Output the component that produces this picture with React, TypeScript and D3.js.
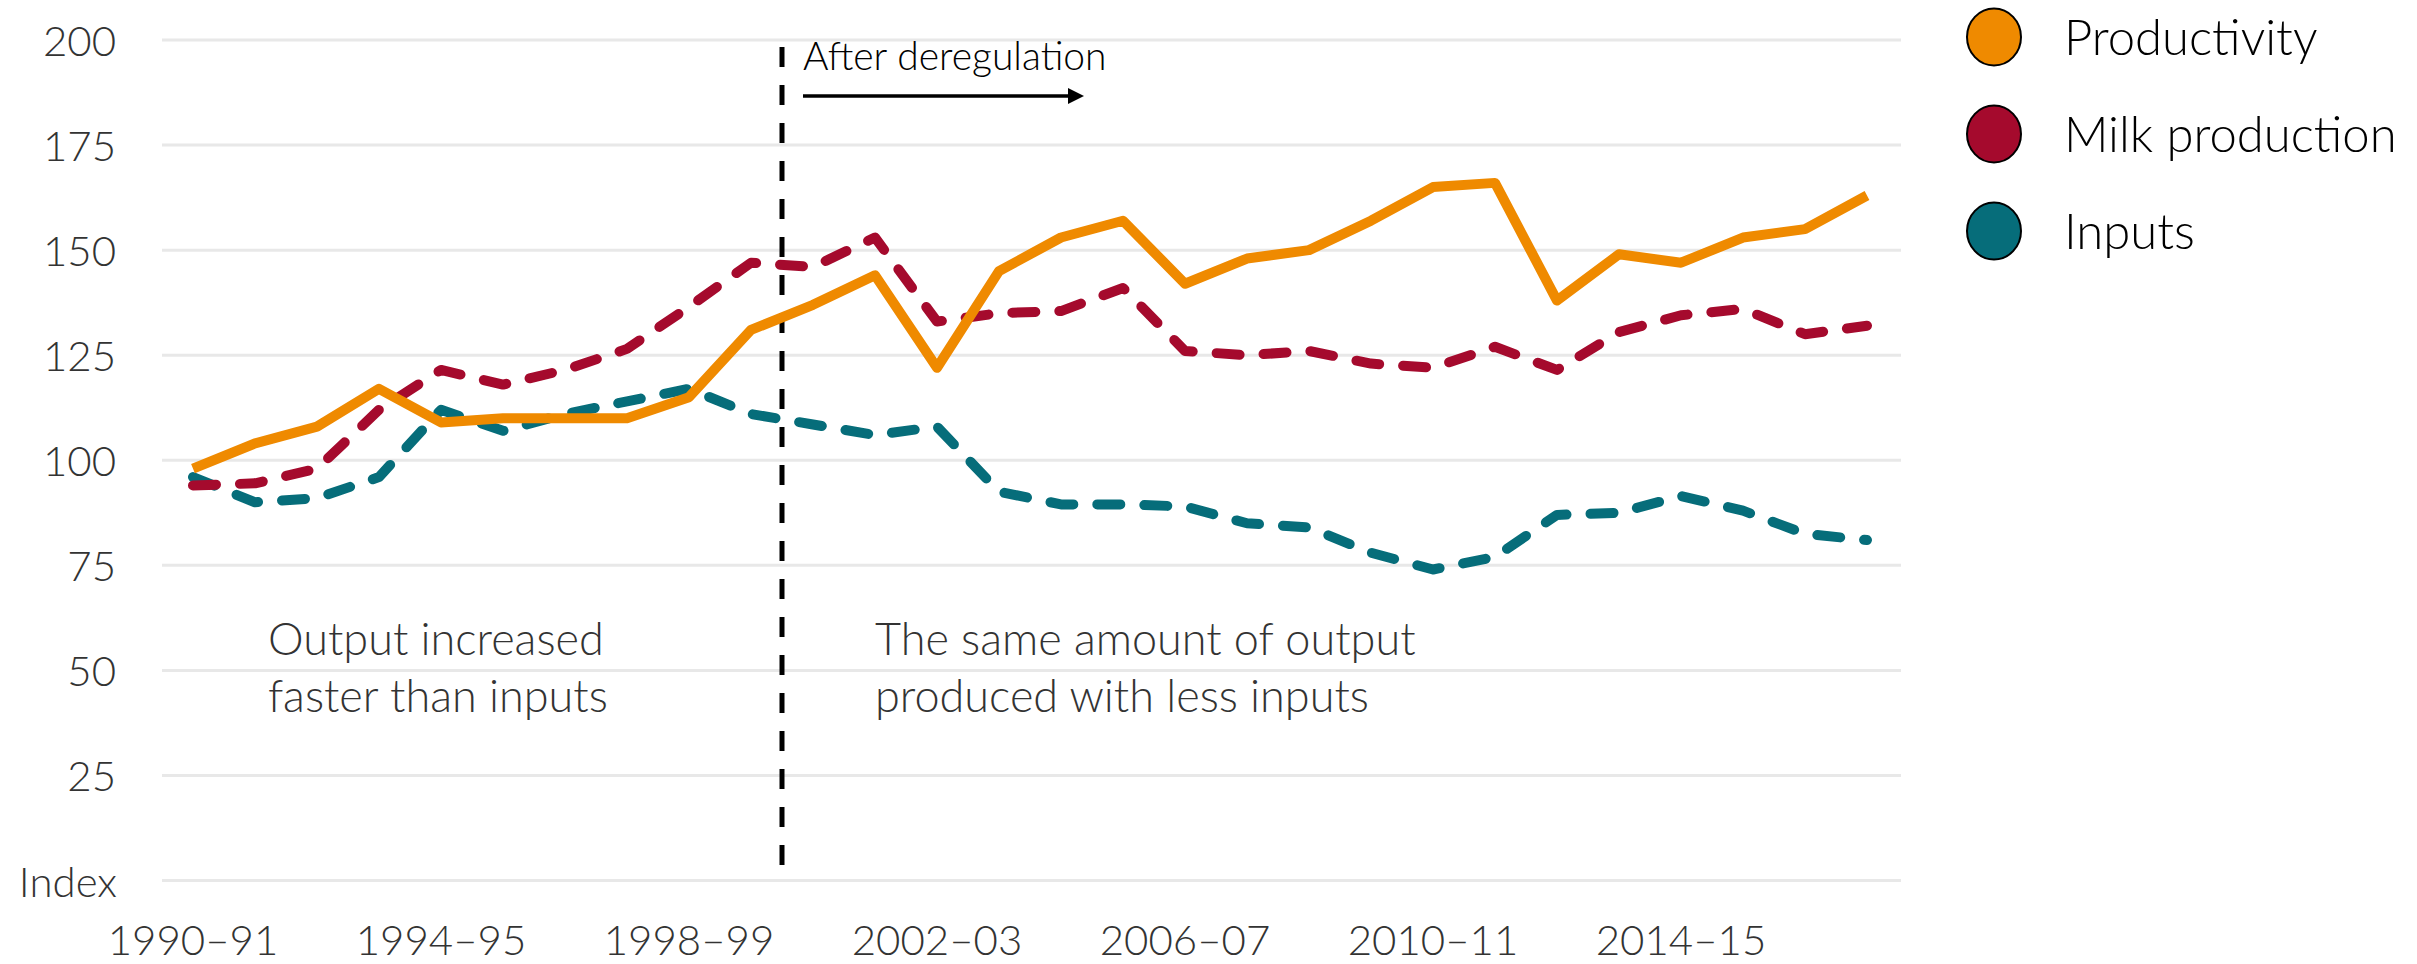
import * as d3 from 'd3';
import React, { useEffect, useRef } from 'react';

const years = [
  '1990–91', '1991–92', '1992–93', '1993–94', '1994–95', '1995–96', '1996–97',
  '1997–98', '1998–99', '1999–00', '2000–01', '2001–02', '2002–03', '2003–04',
  '2004–05', '2005–06', '2006–07', '2007–08', '2008–09', '2009–10', '2010–11',
  '2011–12', '2012–13', '2013–14', '2014–15', '2015–16', '2016–17', '2017–18',
];

const productivity = [
  98, 104, 108, 117, 109, 110, 110, 110, 115, 131, 137, 144, 122, 145,
  153, 157, 142, 148, 150, 157, 165, 166, 138, 149, 147, 153, 155, 163,
];

const milkProduction = [
  94, 94.5, 98, 112, 121.5, 118, 121.5, 126.5, 136.5, 147, 146, 153, 133, 135,
  135.5, 141, 126, 125, 126, 123, 122, 127, 121.5, 130.5, 134.5, 136, 130, 132,
];

const inputs = [
  96, 90, 91, 96, 112, 107, 111, 114, 117, 111, 108.5, 106, 108, 92.5,
  89.5, 89.5, 89, 85, 84, 78, 74, 77, 87, 87.5, 91.5, 88, 82.5, 81,
];

const yTicks = [25, 50, 75, 100, 125, 150, 175, 200];
const xTickLabels = ['1990–91', '1994–95', '1998–99', '2002–03', '2006–07', '2010–11', '2014–15'];

const seriesNames = ['Productivity', 'Milk production', 'Inputs'];
const seriesColors = ['#ef8a00', '#a50a2d', '#066d7a'];

const FONT = 'Lato, "Open Sans", sans-serif';

const Chart: React.FC = () => {
  const ref = useRef<SVGSVGElement | null>(null);

  useEffect(() => {
    if (!ref.current) return;
    const svg = d3.select(ref.current);
    svg.selectAll('*').remove();

    const x = d3.scalePoint<string>().domain(years).range([193, 1867]);
    const y = d3.scaleLinear().domain([0, 200]).range([880.5, 40]);
    const gridLeft = 162;
    const gridRight = 1901;

    // gridlines
    svg.append('g')
      .selectAll('line')
      .data([0, ...yTicks])
      .enter()
      .append('line')
      .attr('x1', gridLeft)
      .attr('x2', gridRight)
      .attr('y1', (d) => y(d))
      .attr('y2', (d) => y(d))
      .attr('stroke', '#e8e8e8')
      .attr('stroke-width', 3);

    // y labels
    svg.append('g')
      .selectAll('text')
      .data(yTicks)
      .enter()
      .append('text')
      .attr('x', 116)
      .attr('y', (d) => y(d))
      .attr('text-anchor', 'end')
      .attr('dominant-baseline', 'central')
      .style('font-family', FONT)
      .style('font-weight', 300)
      .style('font-size', '42px')
      .style('fill', '#333')
      .text((d) => d);

    svg.append('text')
      .attr('x', 117)
      .attr('y', y(0))
      .attr('text-anchor', 'end')
      .attr('dominant-baseline', 'central')
      .style('font-family', FONT)
      .style('font-weight', 300)
      .style('font-size', '42px')
      .style('fill', '#333')
      .text('Index');

    // x labels
    svg.append('g')
      .selectAll('text')
      .data(xTickLabels)
      .enter()
      .append('text')
      .attr('x', (d) => x(d)!)
      .attr('y', 955)
      .attr('text-anchor', 'middle')
      .style('font-family', FONT)
      .style('font-weight', 300)
      .style('font-size', '42px')
      .style('fill', '#333')
      .text((d) => d);

    // deregulation marker
    const xDereg = (x(years[9])! + x(years[10])!) / 2;
    svg.append('line')
      .attr('x1', xDereg)
      .attr('x2', xDereg)
      .attr('y1', 47)
      .attr('y2', y(0))
      .attr('stroke', '#000')
      .attr('stroke-width', 5)
      .attr('stroke-dasharray', '20 18');

    svg.append('text')
      .attr('x', 803)
      .attr('y', 70)
      .style('font-family', FONT)
      .style('font-weight', 300)
      .style('font-size', '39px')
      .style('fill', '#000')
      .text('After deregulation');

    svg.append('line')
      .attr('x1', 803)
      .attr('x2', 1070)
      .attr('y1', 96)
      .attr('y2', 96)
      .attr('stroke', '#000')
      .attr('stroke-width', 3.5);
    svg.append('path')
      .attr('d', 'M1068,88 L1084,96 L1068,104 Z')
      .attr('fill', '#000');

    // annotations
    const notes = [
      { x: 268, lines: ['Output increased', 'faster than inputs'] },
      { x: 875, lines: ['The same amount of output', 'produced with less inputs'] },
    ];
    notes.forEach((n) => {
      n.lines.forEach((t, i) => {
        svg.append('text')
          .attr('x', n.x)
          .attr('y', 655 + i * 57)
          .style('font-family', FONT)
          .style('font-weight', 300)
          .style('font-size', '45px')
          .style('fill', '#333')
          .text(t);
      });
    });

    // lines
    const series = [productivity, milkProduction, inputs];
    const line = d3.line<number>()
      .x((_, i) => x(years[i])!)
      .y((d) => y(d));

    [2, 1, 0].forEach((k) => {
      svg.append('path')
        .datum(series[k])
        .attr('d', line)
        .attr('fill', 'none')
        .attr('stroke', seriesColors[k])
        .attr('stroke-width', 10)
        .attr('stroke-linejoin', 'round')
        .attr('stroke-linecap', k === 0 ? 'butt' : 'round')
        .attr('stroke-dasharray', k === 0 ? null : '23 24');
    });

    // legend
    const legend = svg.append('g');
    seriesNames.forEach((name, i) => {
      const cy = 37 + i * 97;
      legend.append('ellipse')
        .attr('cx', 1994)
        .attr('cy', cy)
        .attr('rx', 27)
        .attr('ry', 28.5)
        .attr('fill', seriesColors[i])
        .attr('stroke', '#000')
        .attr('stroke-width', 2);
      legend.append('text')
        .attr('x', 2064)
        .attr('y', cy + 18)
        .style('font-family', FONT)
        .style('font-weight', 300)
        .style('font-size', '49px')
        .style('fill', '#000')
        .text(name);
    });
  }, []);

  return (
    <svg
      ref={ref}
      width={2417}
      height={964}
      style={{ position: 'absolute', left: 0, top: 0, background: '#fff' }}
    />
  );
};

export default function App() {
  return <Chart />;
}
